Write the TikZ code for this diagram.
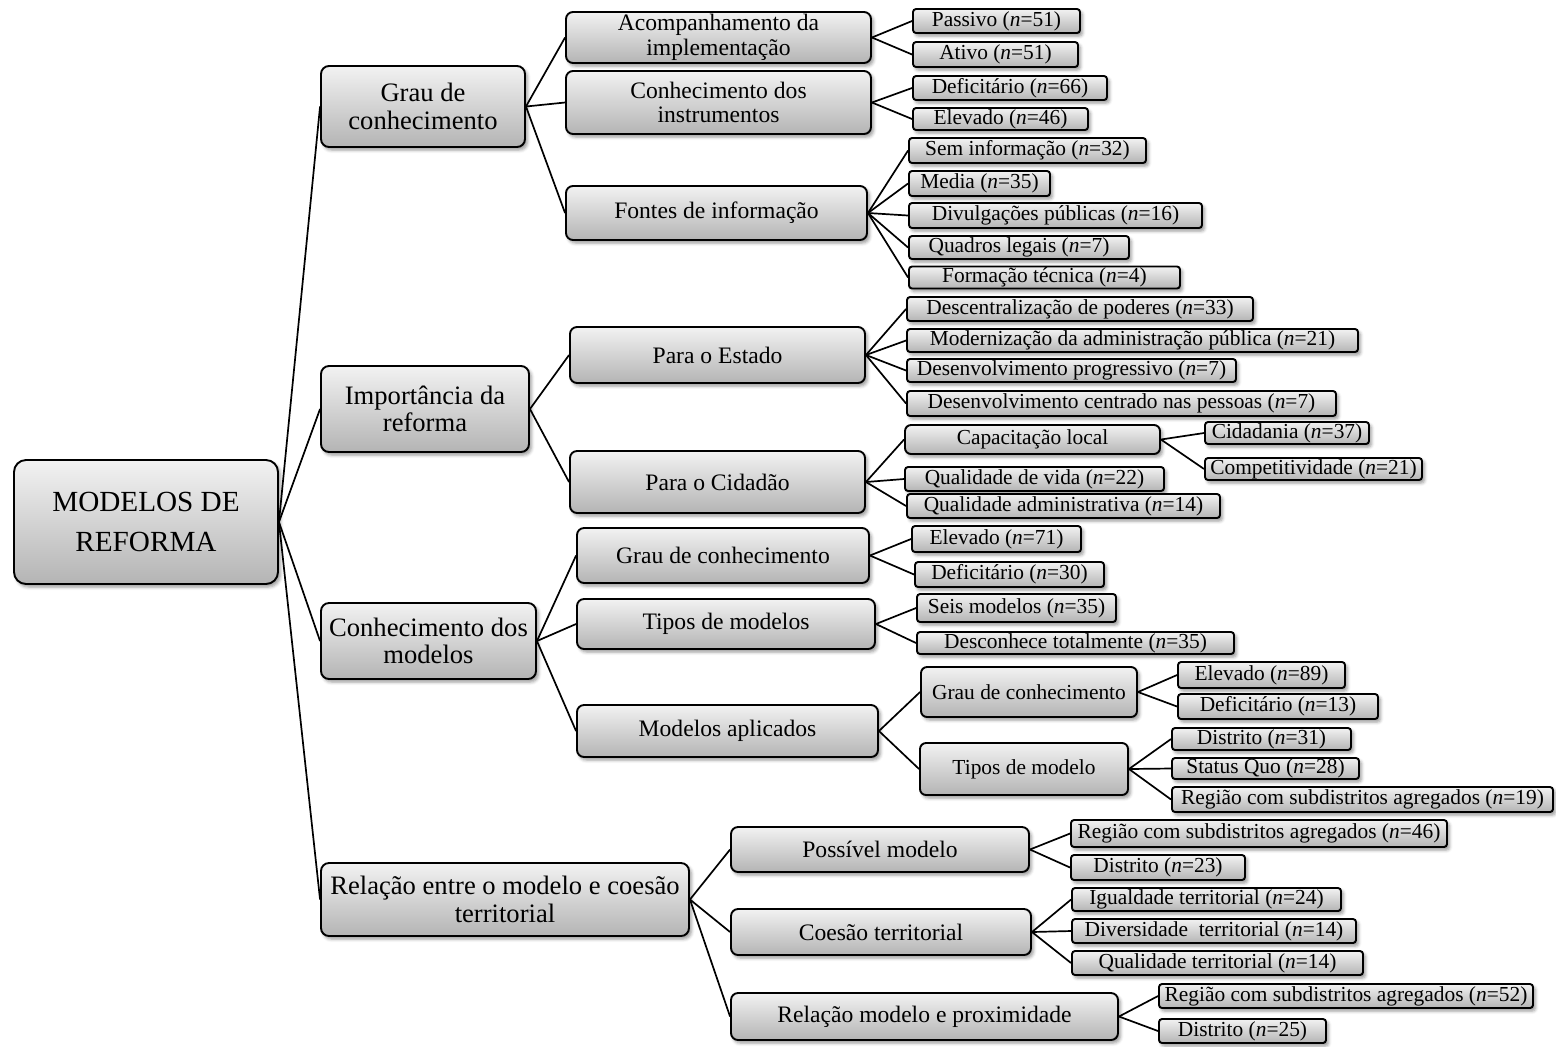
\documentclass[tikz,border=0pt]{standalone}
\usepackage{fontspec}
\setmainfont{Liberation Serif}
\usepackage{tikz}
\usetikzlibrary{shapes, positioning, shadows.blur}
\usepackage{xcolor}

\begin{document}
\begin{tikzpicture}[x=0.5pt, y=-0.5pt,
    box/.style={draw=black, line width=0.95pt, top color=boxtop, bottom color=boxbot,
        blur shadow={shadow xshift=1.2pt, shadow yshift=-1.5pt, shadow blur radius=1.6pt, shadow opacity=40},
        align=center, inner sep=0pt},
    dims/.style 2 args={minimum width=#1pt, minimum height=#2pt},
    rootbox/.style={box, rounded corners=6pt, font=\fontsize{14.6}{20}\selectfont},
    lvlone/.style={box, rounded corners=4pt, font=\fontsize{13.3}{13.8}\selectfont},
    lvltwo/.style={box, rounded corners=3.5pt, font=\fontsize{11.8}{12.2}\selectfont},
    lvlthree/.style={box, rounded corners=3pt, font=\fontsize{10.7}{11}\selectfont},
    leaf/.style={box, rounded corners=1.5pt, font=\fontsize{10.7}{11}\selectfont},
    link/.style={line width=0.85pt}]

% --- COLOURS ---
\definecolor{boxtop}{RGB}{242, 242, 242}
\definecolor{boxbot}{RGB}{180, 180, 180}

\useasboundingbox (0,0) rectangle (1556,1046);

% --- ROOT ---
\node[rootbox, dims={132}{62}] (r) at (146,522) {MODELOS DE\\REFORMA};

% --- FIRST LEVEL ---
\node[lvlone, dims={102}{40.5}] (g)   at (423,106.5) {Grau de\\conhecimento};
\node[lvlone, dims={104}{43}]   (imp) at (425,409)   {Importância da\\reforma};
\node[lvlone, dims={107.5}{38}] (cm)  at (428.5,641) {Conhecimento dos\\modelos};
\node[lvlone, dims={184}{36.5}] (rel) at (505,899.5) {Relação entre o modelo e coesão\\territorial};

\foreach \c in {g,imp,cm,rel}
    \draw[link] (r.east) -- (\c.west);

% --- GRAU DE CONHECIMENTO ---
\node[lvltwo, dims={152.5}{25.5}] (acomp)  at (718.5,37.5) {Acompanhamento da\\implementação};
\node[lvltwo, dims={152.5}{31.5}] (instr)  at (718.5,102.5) {Conhecimento dos\\instrumentos};
\node[lvltwo, dims={150.5}{27}]   (fontes) at (716.5,213) {Fontes de informação};

\node[leaf, dims={83.5}{12}]   (passivo) at (996.5,21)    {Passivo (\textit{n}=51)};
\node[leaf, dims={82.5}{12.5}] (ativo)   at (995.5,54.5)  {Ativo (\textit{n}=51)};
\node[leaf, dims={97}{12}]     (defa)    at (1010,88)     {Deficitário (\textit{n}=66)};
\node[leaf, dims={87.5}{11}]   (elva)    at (1000.5,119)  {Elevado (\textit{n}=46)};
\node[leaf, dims={118.5}{12.5}] (sem)    at (1027.5,150.5) {Sem informação (\textit{n}=32)};
\node[leaf, dims={70.5}{12.5}] (media)   at (979.5,183.5) {Media (\textit{n}=35)};
\node[leaf, dims={146.5}{12.5}] (divulg) at (1055.5,215.5) {Divulgações públicas (\textit{n}=16)};
\node[leaf, dims={110}{11.5}]  (quadros) at (1019,247.5)  {Quadros legais (\textit{n}=7)};
\node[leaf, dims={135.5}{11}]  (formac)  at (1044.5,277.5) {Formação técnica (\textit{n}=4)};

\foreach \c in {acomp,instr,fontes}
    \draw[link] (g.east) -- (\c.west);
\foreach \c in {passivo,ativo}
    \draw[link] (acomp.east) -- (\c.west);
\foreach \c in {defa,elva}
    \draw[link] (instr.east) -- (\c.west);
\foreach \c in {sem,media,divulg,quadros,formac}
    \draw[link] (fontes.east) -- (\c.west);

% --- IMPORTANCIA DA REFORMA ---
\node[lvltwo, dims={147.5}{28}] (estado)  at (717.5,355) {Para o Estado};
\node[lvltwo, dims={147.5}{31}] (cidadao) at (717.5,482) {Para o Cidadão};

\node[leaf, dims={173}{12}]    (descent) at (1080,309)    {Descentralização de poderes (\textit{n}=33)};
\node[leaf, dims={225.5}{11.5}] (modern) at (1132.5,340.5) {Modernização da administração pública (\textit{n}=21)};
\node[leaf, dims={164.5}{11.5}] (desprog) at (1071.5,370.5) {Desenvolvimento progressivo (\textit{n}=7)};
\node[leaf, dims={214.5}{12.5}] (despes) at (1121.5,403.5) {Desenvolvimento centrado nas pessoas (\textit{n}=7)};

\node[lvlthree, dims={127.5}{14.5}] (capac) at (1032.5,439.5) {Capacitação local};
\node[leaf, dims={82}{11}]     (cidad)   at (1287,433)    {Cidadania (\textit{n}=37)};
\node[leaf, dims={108.5}{11}]  (compet)  at (1313.5,469)  {Competitividade (\textit{n}=21)};
\node[leaf, dims={129.5}{12}]  (qvida)   at (1034.5,479)  {Qualidade de vida (\textit{n}=22)};
\node[leaf, dims={156.5}{12}]  (qadmin)  at (1063.5,506)  {Qualidade administrativa (\textit{n}=14)};

\foreach \c in {estado,cidadao}
    \draw[link] (imp.east) -- (\c.west);
\foreach \c in {descent,modern,desprog,despes}
    \draw[link] (estado.east) -- (\c.west);
\foreach \c in {capac,qvida,qadmin}
    \draw[link] (cidadao.east) -- (\c.west);
\foreach \c in {cidad,compet}
    \draw[link] (capac.east) -- (\c.west);

% --- CONHECIMENTO DOS MODELOS ---
\node[lvltwo, dims={146}{27.5}]  (grau)  at (723,555.5) {Grau de conhecimento};
\node[lvltwo, dims={149}{25}]    (tipos) at (726,624)   {Tipos de modelos};
\node[lvltwo, dims={150.5}{26}]  (aplic) at (727.5,731) {Modelos aplicados};

\node[leaf, dims={84.5}{13}]   (elvb)  at (996.5,539)   {Elevado (\textit{n}=71)};
\node[leaf, dims={94.5}{12.5}] (defb)  at (1009.5,574.5) {Deficitário (\textit{n}=30)};
\node[leaf, dims={99.5}{14}]   (seis)  at (1016.5,608)  {Seis modelos (\textit{n}=35)};
\node[leaf, dims={158.5}{11}]  (descon) at (1075.5,643) {Desconhece totalmente (\textit{n}=35)};

\node[lvlthree, dims={108}{25}] (graub)  at (1029,692) {Grau de conhecimento};
\node[lvlthree, dims={104}{26}] (tiposb) at (1024,769) {Tipos de modelo};

\node[leaf, dims={83.5}{13}]   (elvc)    at (1261.5,675)   {Elevado (\textit{n}=89)};
\node[leaf, dims={100}{12.5}]  (defc)    at (1278,706.5)   {Deficitário (\textit{n}=13)};
\node[leaf, dims={89.5}{11}]   (distra)  at (1261.5,739)   {Distrito (\textit{n}=31)};
\node[leaf, dims={93.5}{10.5}] (status)  at (1265.5,768.5) {Status Quo (\textit{n}=28)};
\node[leaf, dims={190.5}{12.5}] (regiaoa) at (1362.5,799.5) {Região com subdistritos agregados (\textit{n}=19)};

\foreach \c in {grau,tipos,aplic}
    \draw[link] (cm.east) -- (\c.west);
\foreach \c in {elvb,defb}
    \draw[link] (grau.east) -- (\c.west);
\foreach \c in {seis,descon}
    \draw[link] (tipos.east) -- (\c.west);
\foreach \c in {graub,tiposb}
    \draw[link] (aplic.east) -- (\c.west);
\foreach \c in {elvc,defc}
    \draw[link] (graub.east) -- (\c.west);
\foreach \c in {distra,status,regiaoa}
    \draw[link] (tiposb.east) -- (\c.west);

% --- RELACAO ENTRE O MODELO E COESAO ---
\node[lvltwo, dims={149}{22.5}]   (possivel) at (880,849.5)  {Possível modelo};
\node[lvltwo, dims={150}{23}]     (coesao)   at (881,932)    {Coesão territorial};
\node[lvltwo, dims={193.5}{23.5}] (proxim)   at (924.5,1016.5) {Relação modelo e proximidade};

\node[leaf, dims={188}{13.5}]  (regiaob) at (1259,833.5)   {Região com subdistritos agregados (\textit{n}=46)};
\node[leaf, dims={87}{12.5}]   (distrb)  at (1158,867.5)   {Distrito (\textit{n}=23)};
\node[leaf, dims={134.5}{11.5}] (igual)  at (1206.5,899.5) {Igualdade territorial (\textit{n}=24)};
\node[leaf, dims={142}{12}]    (divers)  at (1214,931)     {Diversidade~ territorial (\textit{n}=14)};
\node[leaf, dims={145.5}{12}]  (qterr)   at (1217.5,963)   {Qualidade territorial (\textit{n}=14)};
\node[leaf, dims={187}{12}]    (regiaoc) at (1346,996)     {Região com subdistritos agregados (\textit{n}=52)};
\node[leaf, dims={83.5}{12}]   (distrc)  at (1242.5,1031)  {Distrito (\textit{n}=25)};

\foreach \c in {possivel,coesao,proxim}
    \draw[link] (rel.east) -- (\c.west);
\foreach \c in {regiaob,distrb}
    \draw[link] (possivel.east) -- (\c.west);
\foreach \c in {igual,divers,qterr}
    \draw[link] (coesao.east) -- (\c.west);
\foreach \c in {regiaoc,distrc}
    \draw[link] (proxim.east) -- (\c.west);

\end{tikzpicture}
\end{document}
